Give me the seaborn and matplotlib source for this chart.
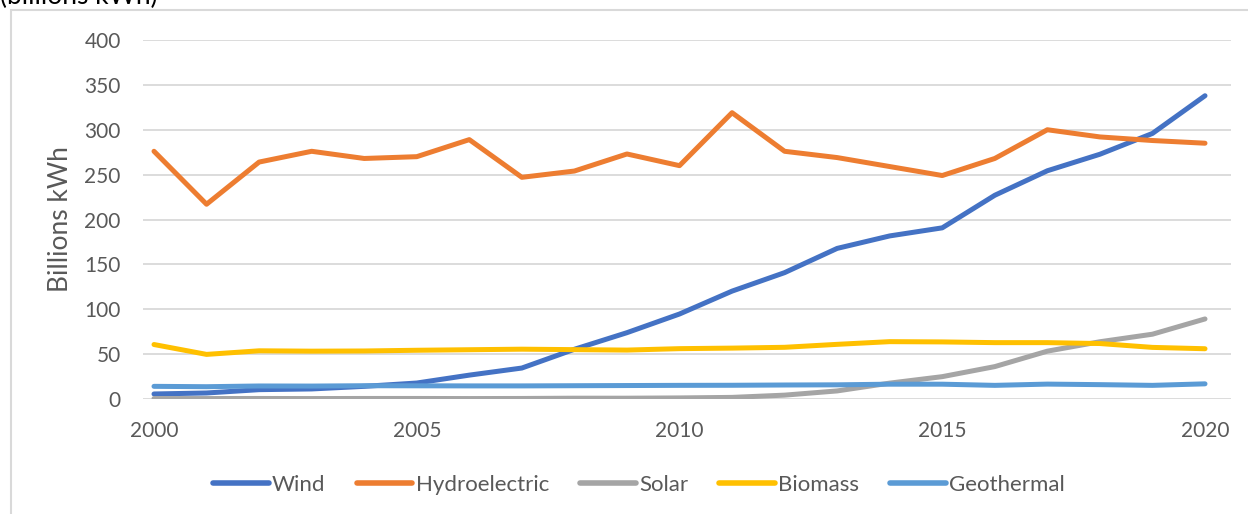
import numpy as np
import pandas as pd
import matplotlib
matplotlib.use('Agg')
import matplotlib.pyplot as plt
import seaborn as sns
from matplotlib.patches import Rectangle

years = list(range(2000, 2021))
wind = [5.6, 6.7, 10.4, 11.2, 14.1, 17.8, 26.6, 34.5, 55.4, 73.9, 94.7,
        120.2, 140.8, 167.8, 181.7, 190.7, 227.0, 254.3, 272.7, 295.9, 337.9]
hydro = [276, 217, 264, 276, 268, 270, 289, 247, 254, 273, 260,
         319, 276, 269, 259, 249, 268, 300, 292, 288, 285]
solar = [0.5, 0.5, 0.6, 0.5, 0.6, 0.6, 0.5, 0.6, 0.9, 0.9, 1.2,
         1.8, 4.3, 9.0, 17.7, 24.9, 36.1, 53.3, 63.8, 72.2, 89.2]
biomass = [60.7, 49.7, 53.7, 53.3, 53.5, 54.3, 54.9, 55.5, 55.0, 54.5, 56.1,
           56.7, 57.6, 60.9, 63.9, 63.6, 62.8, 62.8, 61.8, 57.5, 56.0]
geothermal = [14.1, 13.7, 14.5, 14.4, 14.8, 14.7, 14.6, 14.6, 14.8, 15.0, 15.2,
              15.3, 15.6, 15.8, 16.5, 16.5, 15.2, 16.6, 16.0, 15.2, 16.9]

sources = ['Wind', 'Hydroelectric', 'Solar', 'Biomass', 'Geothermal']
colors = ['#4472C4', '#ED7D31', '#A5A5A5', '#FFC000', '#5B9BD5']
y_ticks = [0, 50, 100, 150, 200, 250, 300, 350, 400]
x_ticks = [2000, 2005, 2010, 2015, 2020]

df = pd.DataFrame({'Year': years, 'Wind': wind, 'Hydroelectric': hydro,
                   'Solar': solar, 'Biomass': biomass, 'Geothermal': geothermal})
long = df.melt(id_vars='Year', var_name='Source', value_name='kWh')

sns.set_style('white')
plt.rcParams['font.family'] = ['Lato', 'DejaVu Sans']

W, H = 1248, 514
fig = plt.figure(figsize=(W / 100, H / 100), dpi=100)
ax = fig.add_axes([143 / W, 1 - 399 / H, (1231 - 143) / W, (399 - 40) / H])

sns.lineplot(data=long, x='Year', y='kWh', hue='Source', hue_order=sources,
             palette=colors, linewidth=3.6, ax=ax, legend=True)
for ln in ax.lines:
    ln.set_solid_capstyle('round')
    ln.set_solid_joinstyle('round')

px_per_year = (1205 - 154) / 20
ax.set_xlim(2000 - 11 / px_per_year, 2020 + 26 / px_per_year)
ax.set_ylim(0, 400)
ax.set_yticks(y_ticks)
ax.set_xticks(x_ticks)
ax.grid(axis='y', color='#D9D9D9', linewidth=1.3)
ax.set_axisbelow(True)
for s in ['top', 'right', 'left', 'bottom']:
    ax.spines[s].set_visible(False)
ax.tick_params(axis='both', length=0, labelsize=15, labelcolor='#595959')
ax.tick_params(axis='y', pad=16)
ax.tick_params(axis='x', pad=16)
ax.set_xlabel('')
ax.set_ylabel('Billions kWh', fontsize=19, color='#595959', labelpad=8)

handles, labels = ax.get_legend_handles_labels()
ax.get_legend().remove()
leg = fig.legend(handles, labels, loc='center', bbox_to_anchor=(0.512, 1 - 485 / H),
                 ncol=5, frameon=False, fontsize=16, handlelength=2.5,
                 handletextpad=0.15, columnspacing=1.4)
for t in leg.get_texts():
    t.set_color('#595959')
for h in leg.legend_handles:
    h.set_linewidth(4)
    h.set_solid_capstyle('round')

fig.patches.append(Rectangle((10.5 / W, -0.1), 1.2, 1.1 - 10.5 / H,
                             transform=fig.transFigure, fill=False,
                             edgecolor='#D9D9D9', linewidth=1.5))
fig.text(0.0, 1 - 4 / H, '(billions kWh)', fontsize=19, color='black',
         ha='left', va='baseline')

fig.savefig('out.png', dpi=100)
